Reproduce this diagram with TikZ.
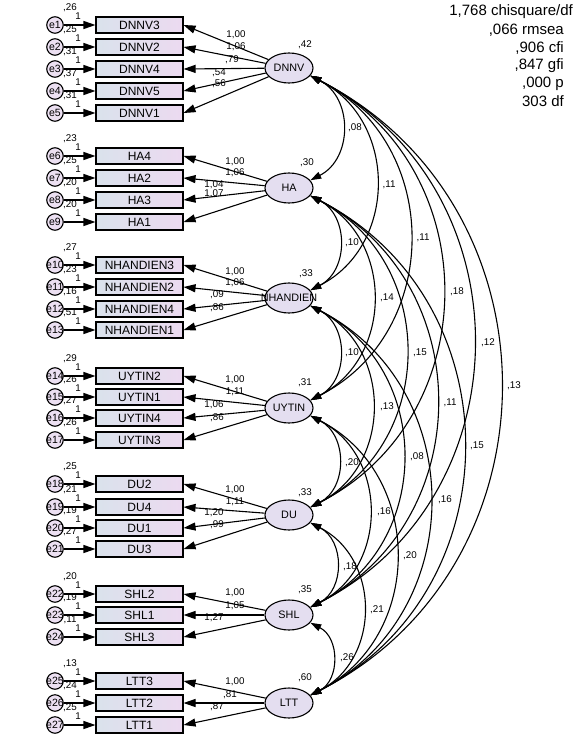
\documentclass[tikz,border=0pt]{standalone}
\usepackage{fontspec}
\setmainfont{Liberation Sans}
\usetikzlibrary{arrows.meta,calc,shapes.geometric}
\definecolor{boxL}{RGB}{218,226,236}
\definecolor{boxR}{RGB}{236,218,240}
\definecolor{latF}{RGB}{228,222,240}
\definecolor{errF}{RGB}{236,224,242}
\newcommand\indrow[6]{%
  \node[ind] (#1) at (139.5,-#3) {#2};
  \node[err] (#4) at (55,-#3) {\makebox[0pt]{#5}};
  \draw[arr] (#4) -- (#1);
  \node[lbl] at (78,-#3+9) {1};
  \node[lbl] at (70,-#3+17) {#6};
}
\newcommand\covar[2]{%
  \draw[cov] (#1.-20) .. controls ($(#1.-20)!0.4585!63:(#2.20)$) and ($(#2.20)!0.4585!-63:(#1.-20)$) .. (#2.20);
}
\begin{document}
\begin{tikzpicture}[x=1pt,y=1pt,
  ind/.style={draw,line width=1.1pt,minimum width=87pt,minimum height=16pt,inner sep=0pt,left color=boxL,right color=boxR,font=\fontsize{12}{13}\selectfont},
  lat/.style={ellipse,draw,line width=1.1pt,minimum width=48pt,minimum height=30pt,inner sep=0pt,fill=latF,font=\fontsize{10.8}{12}\selectfont},
  err/.style={circle,draw,line width=1.1pt,minimum size=16.5pt,inner sep=0pt,fill=errF,font=\fontsize{10.5}{11}\selectfont},
  lbl/.style={inner sep=0pt,font=\fontsize{9.8}{10}\selectfont},
  arr/.style={line width=1.1pt,-{Triangle[length=12pt,width=8pt]}},
  cov/.style={line width=1.1pt,{Triangle[length=11pt,width=7pt]}-{Triangle[length=11pt,width=7pt]}},
  fitstat/.style={inner sep=0pt,anchor=east,font=\fontsize{15}{16}\selectfont}
]
\useasboundingbox (0,0) rectangle (575,-741);
\fill[white] (0,0) rectangle (575,-741);

% latent variables
\node[lat] (DNNV) at (289,-68) {DNNV};
\node[lat] (HA) at (289,-188) {HA};
\node[lat] (NHANDIEN) at (289,-298) {\makebox[0pt]{NHANDIEN}};
\node[lat] (UYTIN) at (289,-408) {UYTIN};
\node[lat] (DU) at (289,-515) {DU};
\node[lat] (SHL) at (289,-615) {SHL};
\node[lat] (LTT) at (289,-703) {LTT};

% indicators
\indrow{DNNV3}{DNNV3}{25}{e1}{e1}{,26}
\indrow{DNNV2}{DNNV2}{47}{e2}{e2}{,25}
\indrow{DNNV4}{DNNV4}{69}{e3}{e3}{,31}
\indrow{DNNV5}{DNNV5}{91}{e4}{e4}{,37}
\indrow{DNNV1}{DNNV1}{113}{e5}{e5}{,31}
\indrow{HA4}{HA4}{156}{e6}{e6}{,23}
\indrow{HA2}{HA2}{178}{e7}{e7}{,25}
\indrow{HA3}{HA3}{200}{e8}{e8}{,20}
\indrow{HA1}{HA1}{222}{e9}{e9}{,20}
\indrow{NHANDIEN3}{NHANDIEN3}{265}{e10}{e10}{,27}
\indrow{NHANDIEN2}{NHANDIEN2}{287}{e11}{e11}{,23}
\indrow{NHANDIEN4}{NHANDIEN4}{309}{e12}{e12}{,16}
\indrow{NHANDIEN1}{NHANDIEN1}{330}{e13}{e13}{,51}
\indrow{UYTIN2}{UYTIN2}{376}{e14}{e14}{,29}
\indrow{UYTIN1}{UYTIN1}{397}{e15}{e15}{,26}
\indrow{UYTIN4}{UYTIN4}{418}{e16}{e16}{,27}
\indrow{UYTIN3}{UYTIN3}{440}{e17}{e17}{,26}
\indrow{DU2}{DU2}{484}{e18}{e18}{,25}
\indrow{DU4}{DU4}{507}{e19}{e19}{,21}
\indrow{DU1}{DU1}{528}{e20}{e20}{,19}
\indrow{DU3}{DU3}{549}{e21}{e21}{,27}
\indrow{SHL2}{SHL2}{594}{e22}{e22}{,20}
\indrow{SHL1}{SHL1}{615}{e23}{e23}{,19}
\indrow{SHL3}{SHL3}{637}{e24}{e24}{,11}
\indrow{LTT3}{LTT3}{681}{e25}{e25}{,13}
\indrow{LTT2}{LTT2}{703}{e26}{e26}{,24}
\indrow{LTT1}{LTT1}{725}{e27}{e27}{,25}

% loadings
\foreach \b in {DNNV3,DNNV2,DNNV4,DNNV5,DNNV1} \draw[arr] (DNNV) -- (\b.east);
\foreach \b in {HA4,HA2,HA3,HA1} \draw[arr] (HA) -- (\b.east);
\foreach \b in {NHANDIEN3,NHANDIEN2,NHANDIEN4,NHANDIEN1} \draw[arr] (NHANDIEN) -- (\b.east);
\foreach \b in {UYTIN2,UYTIN1,UYTIN4,UYTIN3} \draw[arr] (UYTIN) -- (\b.east);
\foreach \b in {DU2,DU4,DU1,DU3} \draw[arr] (DU) -- (\b.east);
\foreach \b in {SHL2,SHL1,SHL3} \draw[arr] (SHL) -- (\b.east);
\foreach \b in {LTT3,LTT2,LTT1} \draw[arr] (LTT) -- (\b.east);

\node[lbl] at (236,-35) {1,00};
\node[lbl] at (236,-47) {1,06};
\node[lbl] at (232,-60) {,79};
\node[lbl] at (219,-73) {,54};
\node[lbl] at (219,-84) {,56};
\node[lbl] at (235,-162) {1,00};
\node[lbl] at (235,-173) {1,06};
\node[lbl] at (214,-185) {1,04};
\node[lbl] at (214,-194) {1,07};
\node[lbl] at (235,-272) {1,00};
\node[lbl] at (235,-283) {1,06};
\node[lbl] at (217,-295) {,09};
\node[lbl] at (217,-308) {,86};
\node[lbl] at (235,-380) {1,00};
\node[lbl] at (235,-392) {1,11};
\node[lbl] at (214,-405) {1,06};
\node[lbl] at (217,-418) {,86};
\node[lbl] at (235,-490) {1,00};
\node[lbl] at (235,-502) {1,11};
\node[lbl] at (214,-513) {1,20};
\node[lbl] at (217,-525) {,99};
\node[lbl] at (235,-593) {1,00};
\node[lbl] at (235,-606) {1,05};
\node[lbl] at (214,-618) {1,27};
\node[lbl] at (235,-682) {1,00};
\node[lbl] at (230,-695) {,81};
\node[lbl] at (217,-707) {,87};

% latent variances
\node[lbl] at (305,-45) {,42};
\node[lbl] at (307,-163) {,30};
\node[lbl] at (306,-274) {,33};
\node[lbl] at (305,-383) {,31};
\node[lbl] at (305,-493) {,33};
\node[lbl] at (305,-590) {,35};
\node[lbl] at (305,-678) {,60};

% covariances
\covar{DNNV}{HA}
\covar{HA}{NHANDIEN}
\covar{NHANDIEN}{UYTIN}
\covar{UYTIN}{DU}
\covar{DU}{SHL}
\covar{SHL}{LTT}
\covar{DNNV}{NHANDIEN}
\covar{HA}{UYTIN}
\covar{NHANDIEN}{DU}
\covar{UYTIN}{SHL}
\covar{DU}{LTT}
\covar{DNNV}{UYTIN}
\covar{HA}{DU}
\covar{NHANDIEN}{SHL}
\covar{UYTIN}{LTT}
\covar{DNNV}{DU}
\covar{HA}{SHL}
\covar{NHANDIEN}{LTT}
\covar{DNNV}{SHL}
\covar{HA}{LTT}
\covar{DNNV}{LTT}

\node[lbl] at (355,-128) {,08};
\node[lbl] at (352,-243) {,10};
\node[lbl] at (352,-353) {,10};
\node[lbl] at (352,-463) {,20};
\node[lbl] at (350,-567) {,18};
\node[lbl] at (347,-658) {,26};
\node[lbl] at (389,-185) {,11};
\node[lbl] at (387,-298) {,14};
\node[lbl] at (387,-407) {,13};
\node[lbl] at (384,-512) {,16};
\node[lbl] at (377,-610) {,21};
\node[lbl] at (423,-238) {,11};
\node[lbl] at (420,-353) {,15};
\node[lbl] at (417,-457) {,08};
\node[lbl] at (410,-556) {,20};
\node[lbl] at (457,-292) {,18};
\node[lbl] at (450,-403) {,11};
\node[lbl] at (445,-500) {,16};
\node[lbl] at (488,-343) {,12};
\node[lbl] at (477,-446) {,15};
\node[lbl] at (514,-386) {,13};

% fit statistics
\node[fitstat] at (573,-12) {1,768 chisquare/df};
\node[fitstat] at (564,-30) {,066 rmsea};
\node[fitstat] at (564,-48) {,906 cfi};
\node[fitstat] at (564,-66) {,847 gfi};
\node[fitstat] at (564,-84) {,000 p};
\node[fitstat] at (564,-101) {303 df};
\end{tikzpicture}
\end{document}
